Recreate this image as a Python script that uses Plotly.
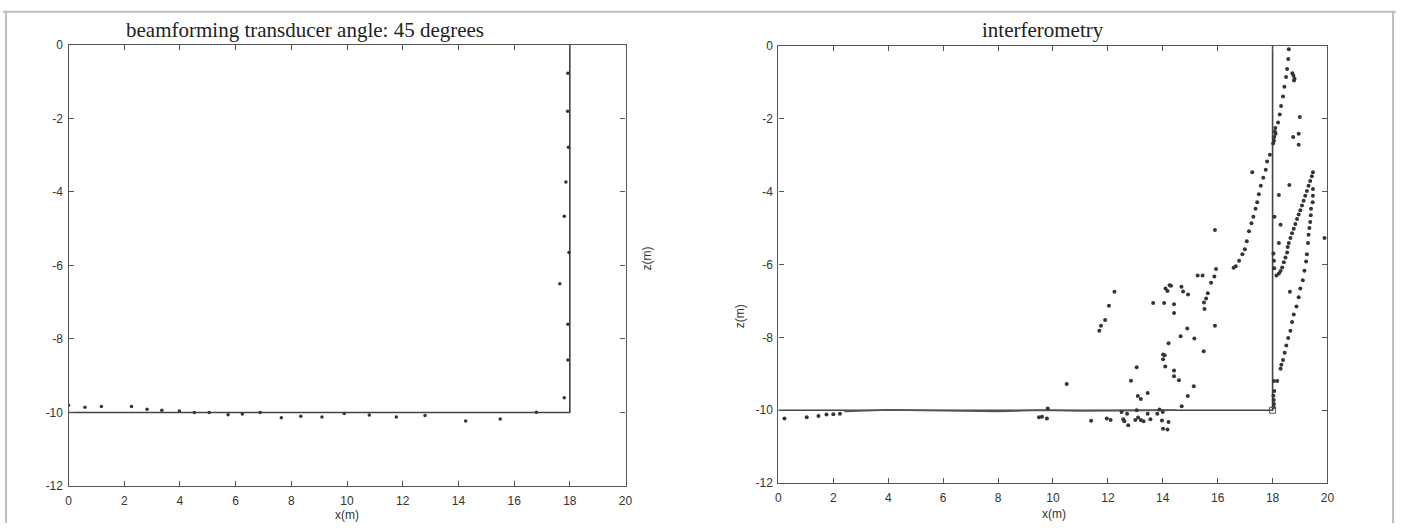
import plotly.graph_objects as go

W, H = 1403, 530

# ---------------- data: left panel (beamforming) ----------------
bf_bottom_x = [0.0, 0.59, 1.18, 2.26, 2.82, 3.35, 3.98, 4.52, 5.05, 5.73, 6.24, 6.88,
               7.64, 8.34, 9.1, 9.9, 10.8, 11.77, 12.8, 14.26, 15.5, 16.8]
bf_bottom_z = [-9.8, -9.86, -9.84, -9.84, -9.91, -9.94, -9.96, -10.0, -10.0, -10.06, -10.04, -10.0,
               -10.14, -10.1, -10.12, -10.03, -10.07, -10.12, -10.08, -10.23, -10.18, -9.99]
bf_wall_x = [17.93, 17.92, 17.95, 17.86, 17.8, 17.97, 17.64, 17.93, 17.93, 17.8]
bf_wall_z = [-0.77, -1.8, -2.78, -3.73, -4.66, -5.65, -6.5, -7.6, -8.57, -9.6]

# geometry of the tank (bottom at -10 m, wall at 18 m)
tank_x = [0, 18, 18]
tank_z = [-10, -10, 0]

# ---------------- data: right panel (interferometry) ----------------
curve_a_x = [18.59, 18.57, 18.53, 18.49, 18.43, 18.38, 18.31, 18.26, 18.2, 18.11, 18.02, 17.9,
             17.8, 17.75, 17.66, 17.57, 17.5, 17.44, 17.38, 17.3, 17.23, 17.14, 17.06, 16.99,
             16.9, 16.78, 16.66, 16.58]
curve_a_z = [-0.09, -0.36, -0.63, -0.85, -1.12, -1.39, -1.65, -1.88, -2.1, -2.41, -2.68, -2.99,
             -3.17, -3.4, -3.62, -3.84, -4.07, -4.29, -4.47, -4.69, -4.87, -5.09, -5.36, -5.58,
             -5.72, -5.9, -6.05, -6.09]
curve_b_x = [19.47, 19.43, 19.37, 19.31, 19.25, 19.19, 19.13, 19.07, 19.01, 18.95, 18.89, 18.83,
             18.77, 18.71, 18.65, 18.59, 18.55, 18.53, 18.47, 18.41, 18.35, 18.29, 18.23, 18.14]
curve_b_z = [-3.47, -3.58, -3.71, -3.84, -3.98, -4.11, -4.25, -4.38, -4.51, -4.63, -4.75, -4.89,
             -5.02, -5.14, -5.27, -5.41, -5.52, -5.67, -5.81, -5.94, -6.08, -6.18, -6.25, -6.3]
curve_c_x = [19.47, 19.47, 19.46, 19.4, 19.39, 19.37, 19.34, 19.31, 19.29, 19.25, 19.22, 19.16,
             19.1, 19.01, 18.95, 18.87, 18.77, 18.71, 18.65, 18.57, 18.5, 18.44, 18.38, 18.32,
             18.29, 18.17]
curve_c_z = [-3.93, -4.11, -4.29, -4.47, -4.65, -4.83, -5.0, -5.18, -5.41, -5.72, -5.92, -6.17,
             -6.43, -6.66, -6.9, -7.15, -7.37, -7.58, -7.82, -8.02, -8.22, -8.42, -8.62, -8.75,
             -8.86, -9.2]
near_wall_x = [18.72, 18.76, 18.8, 18.78, 18.99, 18.75, 18.95, 18.95, 18.61, 17.26, 18.23, 15.9,
               19.89, 18.29, 18.07, 18.23, 18.63, 18.1, 18.08, 18.06, 18.05, 18.03, 18.05, 18.06,
               18.05, 18.06, 18.03, 18.04, 18.05, 18.04]
near_wall_z = [-0.75, -0.82, -0.9, -0.95, -1.95, -2.5, -2.41, -2.71, -3.82, -3.47, -4.09, -5.05,
               -5.27, -4.91, -4.69, -5.41, -6.75, -2.25, -2.35, -2.5, -2.6, -5.7, -5.9, -6.1,
               -9.2, -9.47, -9.6, -9.72, -9.83, -9.92]
cloud_x = [10.5, 11.69, 11.75, 11.9, 12.04, 12.24, 12.84, 13.05, 13.09, 13.2, 13.45, 13.65,
           14.05, 14.01, 14.01, 14.41, 14.41, 14.25, 14.17, 14.68, 14.92, 15.27, 15.45, 15.94,
           15.88, 15.76, 15.64, 15.58, 15.5, 15.52, 15.9, 14.89, 14.65, 15.15, 14.21, 15.49,
           14.07, 14.09, 14.41, 14.41, 14.59, 15.13, 14.91, 14.69, 14.3, 14.1, 14.74]
cloud_z = [-9.28, -7.82, -7.68, -7.52, -7.13, -6.75, -9.19, -8.82, -9.61, -9.69, -9.53, -7.06,
           -7.06, -8.47, -8.6, -7.09, -7.33, -6.57, -6.73, -6.61, -6.82, -6.3, -6.3, -6.12,
           -6.33, -6.5, -6.79, -6.93, -7.04, -7.22, -7.68, -7.76, -7.97, -8.03, -8.16, -8.38,
           -8.49, -8.8, -8.91, -9.07, -9.18, -9.34, -9.61, -9.89, -6.58, -6.66, -6.74]
seabed_x = [0.22, 1.03, 1.46, 1.75, 2.0, 2.24, 9.81, 9.49, 9.78, 9.6, 11.39, 11.96, 12.1, 12.56,
            12.74, 12.6, 13.0, 13.1, 13.2, 13.3, 13.45, 13.55, 13.88, 13.97, 14.01, 14.0, 14.21,
            14.17, 12.7, 13.05, 12.5, 13.8]
seabed_z = [-10.23, -10.19, -10.16, -10.12, -10.11, -10.1, -9.95, -10.19, -10.23, -10.18, -10.29,
            -10.23, -10.27, -10.25, -10.41, -10.3, -10.27, -10.2, -10.27, -10.3, -10.1, -10.25,
            -9.98, -10.28, -10.51, -10.05, -10.32, -10.53, -10.1, -10.0, -10.05, -10.1]
dense_x = [2.4, 4.0, 6.0, 8.0, 9.5, 11.0, 12.5, 14.5]
dense_z = [-10.03, -9.99, -10.01, -10.03, -10.0, -10.02, -10.01, -10.0]
corner_x = [18.0]
corner_z = [-10.0]

x_ticks = list(range(0, 21, 2))
z_ticks = list(range(-12, 1, 2))
x_labels = [str(v) for v in x_ticks]
z_labels = [str(v) for v in z_ticks]   # ASCII hyphen minus like the original

INK = "#353535"
fig = go.Figure()

# left panel
fig.add_trace(go.Scatter(x=tank_x, y=tank_z, mode="lines", line=dict(color="#444", width=1.6),
                         xaxis="x", yaxis="y", hoverinfo="skip"))
fig.add_trace(go.Scatter(x=bf_bottom_x + bf_wall_x, y=bf_bottom_z + bf_wall_z, mode="markers",
                         marker=dict(size=3.5, color=INK), xaxis="x", yaxis="y"))

# right panel
fig.add_trace(go.Scatter(x=tank_x, y=tank_z, mode="lines", line=dict(color="#444", width=1.6),
                         xaxis="x2", yaxis="y2", hoverinfo="skip"))
fig.add_trace(go.Scatter(x=dense_x, y=dense_z, mode="lines", line=dict(color="#555", width=1.8),
                         xaxis="x2", yaxis="y2", hoverinfo="skip"))
all_x = curve_a_x + curve_b_x + curve_c_x + near_wall_x + cloud_x + seabed_x
all_z = curve_a_z + curve_b_z + curve_c_z + near_wall_z + cloud_z + seabed_z
fig.add_trace(go.Scatter(x=all_x, y=all_z, mode="markers",
                         marker=dict(size=4, color=INK), xaxis="x2", yaxis="y2"))
fig.add_trace(go.Scatter(x=corner_x, y=corner_z, mode="markers",
                         marker=dict(size=6, symbol="square-open", color="#555", line=dict(width=1)),
                         xaxis="x2", yaxis="y2"))

def px(v):
    return v / W

def py(v):
    return 1 - v / H

tickfont = dict(family="Liberation Sans, Arial", size=12, color="#333")
common = dict(showgrid=False, zeroline=False, showline=True, linecolor="#555", linewidth=1.3,
              mirror="ticks", ticks="inside", ticklen=5, tickcolor="#555", tickwidth=1.2,
              tickfont=tickfont, fixedrange=True)

fig.update_layout(
    width=W, height=H,
    margin=dict(l=0, r=0, t=0, b=0),
    paper_bgcolor="white", plot_bgcolor="white",
    showlegend=False,
    xaxis=dict(domain=[px(66), px(627)], range=[0, 20], tickvals=x_ticks, ticktext=x_labels,
               anchor="y", ticklabelstandoff=3, **common),
    yaxis=dict(domain=[py(492), py(39)], range=[-12, 0], tickvals=z_ticks, ticktext=z_labels,
               anchor="x", ticklabelstandoff=2, **common),
    xaxis2=dict(domain=[px(781), px(1334)], range=[0, 20], tickvals=x_ticks, ticktext=x_labels,
                anchor="y2", ticklabelstandoff=3, **common),
    yaxis2=dict(domain=[py(489), py(40)], range=[-12, 0], tickvals=z_ticks, ticktext=z_labels,
                anchor="x2", ticklabelstandoff=2, **common),
)

title_font = dict(family="Liberation Serif, Times New Roman", size=21, color="#222")
label_font = dict(family="Liberation Sans, Arial", size=12, color="#333")
ann = [
    dict(text="beamforming transducer angle: 45 degrees", x=px(304), y=py(24), font=title_font),
    dict(text="interferometry", x=px(1047), y=py(24), font=title_font),
    dict(text="x(m)", x=px(346), y=py(522), font=label_font),
    dict(text="x(m)", x=px(1059), y=py(521), font=label_font),
    dict(text="z(m)", x=px(649), y=py(258), font=label_font, textangle=-90),
    dict(text="z(m)", x=px(742), y=py(318), font=label_font, textangle=-90),
]
for a in ann:
    a.update(xref="paper", yref="paper", showarrow=False, xanchor="center", yanchor="middle")
fig.update_layout(annotations=ann)

# scanned page border
border = dict(color="#bdbdbd", width=2)
fig.add_shape(type="line", xref="paper", yref="paper", x0=0, x1=1, y0=py(5), y1=py(5), line=border)
fig.add_shape(type="line", xref="paper", yref="paper", x0=px(3), x1=px(3), y0=0, y1=py(5), line=border)
fig.add_shape(type="line", xref="paper", yref="paper", x0=px(1400), x1=px(1400), y0=0, y1=py(5), line=border)

fig.write_html("out.html")
